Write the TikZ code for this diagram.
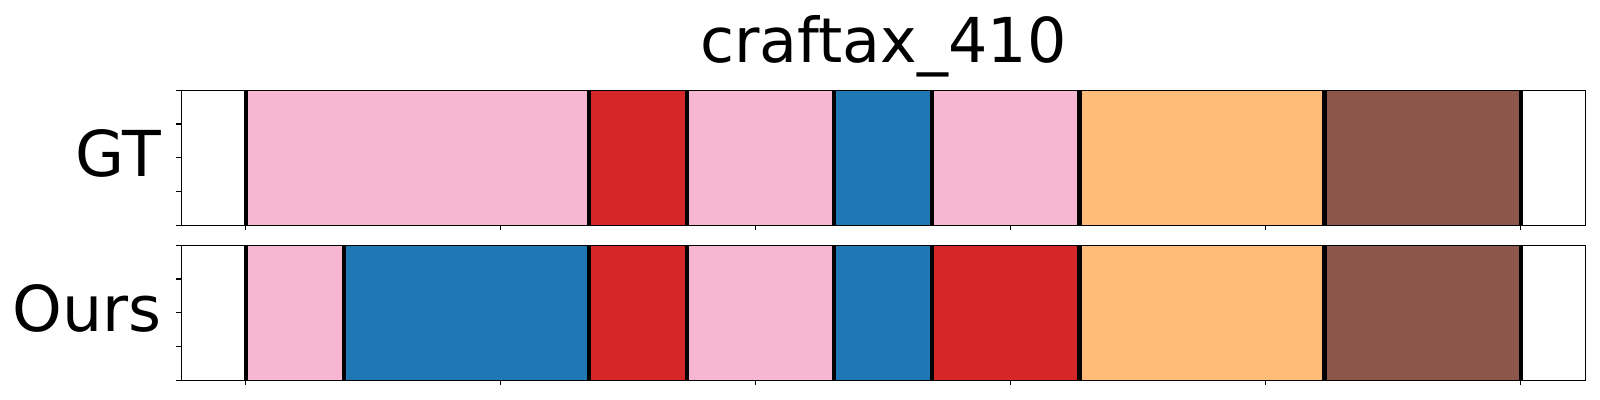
\documentclass[tikz,border=0pt]{standalone}
\usepackage{fontspec}
\setmainfont{DejaVu Sans}
\usetikzlibrary{calc}

\definecolor{segpink}{HTML}{F7B6D2}
\definecolor{segred}{HTML}{D62728}
\definecolor{segblue}{HTML}{1F77B4}
\definecolor{segorange}{HTML}{FFBB78}
\definecolor{segbrown}{HTML}{8C564B}

\tikzset{
	bound/.style={black, line width=1.2pt},
	frame/.style={black, line width=0.32pt},
	tick/.style={black, line width=0.32pt},
	rowlabel/.style={anchor=base east, inner sep=0pt, font=\fontsize{18}{20}\selectfont}
}

\begin{document}
\begin{tikzpicture}[x=0.01cm, y=-0.01cm]
	\useasboundingbox (0,0) rectangle (1600,400);
	\def\xl{181.3} % left of the axes
	\def\xr{1585.7} % right of the axes
	\def\xo{245.7} % first frame
	\def\fw{49.04} % width of one frame
	\def\gt{90.3} % top of GT
	\def\gb{225.3} % bottom of GT
	\def\ot{245.3} % top of Ours
	\def\ob{380.3} % bottom of Ours
	
	% GT segments
	\foreach \a/\b/\c in {0/7/segpink, 7/9/segred, 9/12/segpink, 12/14/segblue,
		14/17/segpink, 17/22/segorange, 22/26/segbrown}
	\fill[\c] ({\xo+\a*\fw},\gt) rectangle ({\xo+\b*\fw},\gb);
	
	% Ours segments
	\foreach \a/\b/\c in {0/2/segpink, 2/7/segblue, 7/9/segred, 9/12/segpink,
		12/14/segblue, 14/17/segred, 17/22/segorange, 22/26/segbrown}
	\fill[\c] ({\xo+\a*\fw},\ot) rectangle ({\xo+\b*\fw},\ob);
	
	% boundaries
	\foreach \a in {0,7,9,12,14,17,22,26}
	\draw[bound] ({\xo+\a*\fw},\gt) -- ({\xo+\a*\fw},\gb);
	\foreach \a in {0,2,7,9,12,14,17,22,26}
	\draw[bound] ({\xo+\a*\fw},\ot) -- ({\xo+\a*\fw},\ob);
	
	% axes
	\draw[frame] (\xl,\gt) rectangle (\xr,\gb);
	\draw[frame] (\xl,\ot) rectangle (\xr,\ob);
	
	% ticks
	\foreach \k in {0,...,5} {
		\draw[tick] ({\xo+255*\k},\gb) -- ++(0,4.9);
		\draw[tick] ({\xo+255*\k},\ob) -- ++(0,4.9);
	}
	\foreach \k in {0,...,4} {
		\draw[tick] (\xl,{\gt+33.75*\k}) -- ++(-4.9,0);
		\draw[tick] (\xl,{\ot+33.75*\k}) -- ++(-4.9,0);
	}
	
	% labels
	\node[anchor=base, inner sep=0pt, font=\fontsize{17.6}{20}\selectfont] (title) at (883.5,62.7) {craftax\_410};
	\node[rowlabel] (gt) at (162,176.7) {GT};
	\node[rowlabel] (ours) at (162,331.7) {Ours};
\end{tikzpicture}
\end{document}
